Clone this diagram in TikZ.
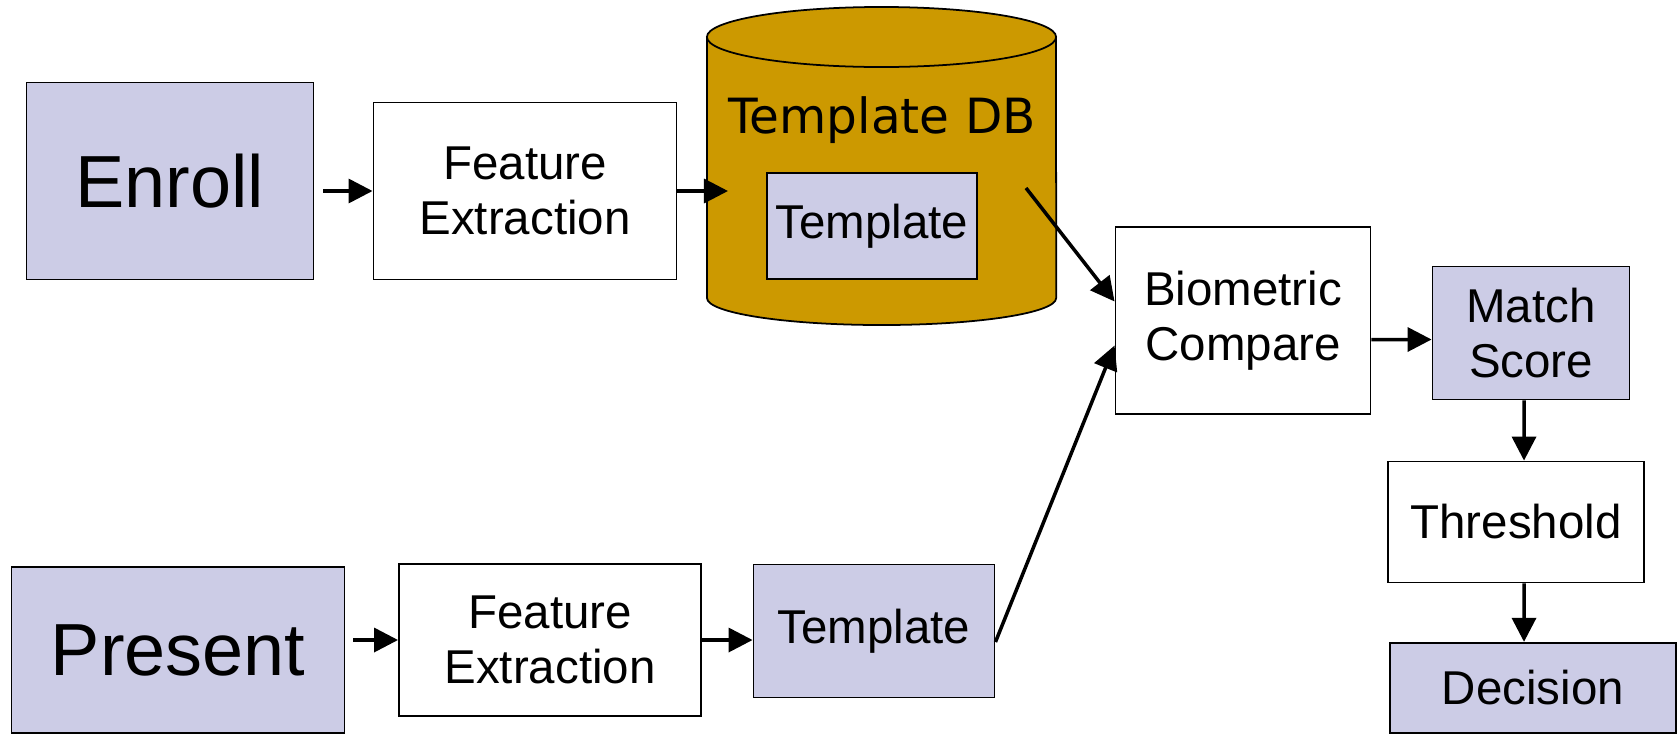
\documentclass[tikz,border=0pt]{standalone}
\usepackage{fontspec}
\setmainfont{Liberation Sans}
\newfontfamily\dbfont{DejaVu Sans}
\usetikzlibrary{arrows.meta}
\definecolor{lavender}{RGB}{204,204,230}
\definecolor{dbgold}{RGB}{204,153,0}

\begin{document}
\begin{tikzpicture}[x=0.01cm, y=-0.01cm,
    box/.style={draw, line width=0.5pt, align=center, inner sep=0pt,
        font=\fontsize{13.5}{15.5}\selectfont},
    databox/.style={box, fill=lavender},
    plainbox/.style={box, fill=white},
    bigtext/.style={font=\fontsize{21}{24}\selectfont},
    arr/.style={-{Triangle[length=0.24cm, width=0.24cm]}, line width=1pt}]

    \useasboundingbox (0,0) rectangle (1679,733);

    % Draw the template database (gold cylinder)
    \draw[fill=dbgold, line width=0.5pt] (707,37) -- (707,298)
        arc[start angle=180, end angle=360, x radius=1.745cm, y radius=0.27cm] -- (1056,37);
    \draw[fill=dbgold, line width=0.5pt] (881.5,37) ellipse [x radius=1.745cm, y radius=0.3cm];
    \node[font=\dbfont\fontsize{13.8}{15.5}\selectfont] (dblabel) at (882,120) {Template DB};
    \node[databox, minimum width=2.10cm, minimum height=1.06cm] (tpl1) at (872,226) {Template};
    \coordinate (dbin) at (728,191); % arrow into the database
    \coordinate (dbout) at (1026,188); % arrow out of the database

    % Enroll row
    \node[databox, bigtext, minimum width=2.87cm, minimum height=1.97cm] (enroll) at (170,181) {Enroll};
    \node[plainbox, minimum width=3.03cm, minimum height=1.77cm] (fe1) at (525,191) {Feature\\Extraction};

    % Present row
    \node[databox, bigtext, minimum width=3.33cm, minimum height=1.655cm] (present) at (178,650) {Present};
    \node[plainbox, minimum width=3.02cm, minimum height=1.52cm] (fe2) at (550,640) {Feature\\Extraction};
    \node[databox, minimum width=2.41cm, minimum height=1.33cm] (tpl2) at (874,631) {Template};

    % Compare and decide
    \node[plainbox, minimum width=2.55cm, minimum height=1.87cm] (bio) at (1243,320.5) {Biometric\\Compare};
    \node[databox, minimum width=1.97cm, minimum height=1.33cm] (score) at (1531,333) {Match\\Score};
    \node[plainbox, minimum width=2.56cm, minimum height=1.21cm] (thresh) at (1516,522) {Threshold};
    \node[databox, minimum width=2.86cm, minimum height=0.905cm] (decision) at (1533,688) {Decision};

    % Arrows
    \draw[arr, shorten <=0.09cm] (enroll.east |- fe1.west) -- (fe1.west);
    \draw[arr] (fe1.east) -- (dbin);
    \draw[arr] (dbout) -- ([yshift=0.19cm]bio.west);
    \draw[arr, shorten <=0.08cm] (present.east |- fe2.west) -- (fe2.west);
    \draw[arr] (fe2.east) -- (fe2.east -| tpl2.west);
    \draw[arr] ([yshift=-0.11cm]tpl2.east) -- ([yshift=-0.25cm]bio.west);
    \draw[arr] ([yshift=-0.19cm]bio.east) -- ([yshift=-0.065cm]score.west);
    \draw[arr] ([xshift=-0.07cm]score.south) -- ([xshift=0.08cm]thresh.north);
    \draw[arr] ([xshift=0.08cm]thresh.south) -- ([xshift=-0.09cm]decision.north);

\end{tikzpicture}
\end{document}
